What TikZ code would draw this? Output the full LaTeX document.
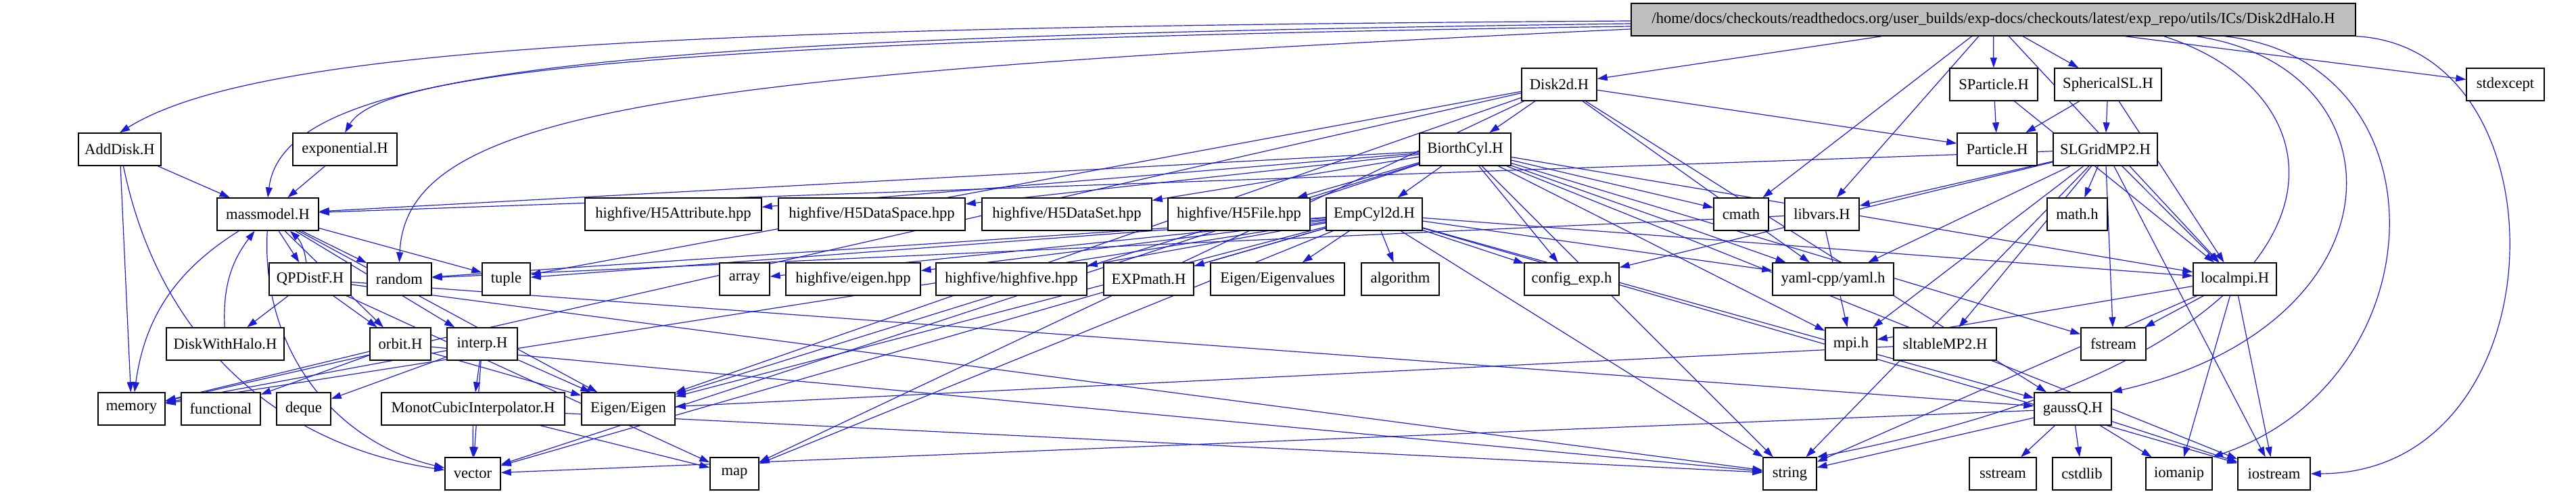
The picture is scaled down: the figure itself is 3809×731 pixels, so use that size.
\documentclass[tikz,border=0pt]{standalone}
\usepackage{fontspec}
\setmainfont{Liberation Serif}
\usetikzlibrary{arrows.meta, backgrounds}
\definecolor{depblue}{HTML}{1C1CD0}
\definecolor{rootgrey}{HTML}{BFBFBF}
\tikzset{
  every picture/.style={line width=0.7pt},
  hfile/.style={draw=black, fill=white, minimum width=#1*0.5pt, minimum height=24pt,
    inner xsep=1pt, inner ysep=0pt, font=\fontsize{11.3}{13}\selectfont},
  rootfile/.style={hfile=#1, fill=rootgrey},
  dep/.style={-{Triangle[length=7.5pt,width=5pt]}, draw=depblue, line width=0.6pt},
}
\begin{document}
\begin{tikzpicture}[x=0.5pt, y=0.5pt]
  \useasboundingbox (0,0) rectangle (3809,-731);
  % the file itself
  \node[rootfile=1071] (main) at (2947.5,-29)
    {/home/docs/checkouts/readthedocs.org/user\_builds/exp-docs/checkouts/latest/exp\_repo/utils/ICs/Disk2dHalo.H};
  % included files, one row at a time
  \foreach \n/\x/\w/\t in {disk2d/2305.5/111/{Disk2d.H}, sparticle/2948/130/{SParticle.H},
      sphsl/3117/158/{SphericalSL.H}, stdexcept/3704.5/115/{stdexcept}}
    \node[hfile=\w] (\n) at (\x,-125) {\t};
  \foreach \n/\x/\w/\t in {adddisk/177/122/{AddDisk.H}, exponential/510/154/{exponential.H},
      biorth/2166.5/135/{BiorthCyl.H}, particle/2953/118/{Particle.H}, slgrid/3113/154/{SLGridMP2.H}}
    \node[hfile=\w] (\n) at (\x,-221) {\t};
  \foreach \n/\x/\w/\t in {massmodel/396/150/{massmodel.H}, h5attr/995.5/261/{highfive/H5Attribute.hpp},
      h5space/1289/276/{highfive/H5DataSpace.hpp}, h5set/1577.5/251/{highfive/H5DataSet.hpp},
      h5file/1832/210/{highfive/H5File.hpp}, empcyl/2032/142/{EmpCyl2d.H}, cmath/2574.5/81/{cmath},
      libvars/2694/110/{libvars.H}, mathh/3071.5/89/{math.h}}
    \node[hfile=\w] (\n) at (\x,-317) {\t};
  \foreach \n/\x/\w/\t in {qpdistf/458.5/121/{QPDistF.H}, random/590.5/95/{random}, tuple/748.5/71/{tuple},
      array/1101/74/{array}, h5eigen/1261.5/199/{highfive/eigen.hpp}, highfive/1495.5/223/{highfive/highfive.hpp},
      expmath/1698.5/133/{EXPmath.H}, eigenvals/1889/198/{Eigen/Eigenvalues}, algorithm/2070.5/115/{algorithm},
      configexp/2324/140/{config\_exp.h}, yaml/2710.5/179/{yaml-cpp/yaml.h}, localmpi/3304.5/123/{localmpi.H}}
    \node[hfile=\w] (\n) at (\x,-413) {\t};
  \foreach \n/\x/\w/\t in {diskhalo/333/174/{DiskWithHalo.H}, orbit/592/90/{orbit.H}, interp/713/104/{interp.H},
      mpih/2737/76/{mpi.h}, sltable/2876/152/{sltableMP2.H}, fstream/3125/96/{fstream}}
    \node[hfile=\w] (\n) at (\x,-509) {\t};
  \foreach \n/\x/\w/\t in {memory/194.5/99/{memory}, functional/326.5/117/{functional}, deque/449/80/{deque},
      monot/699.5/271/{MonotCubicInterpolator.H}, eigen/929/138/{Eigen/Eigen}, gaussq/3065/114/{gaussQ.H}}
    \node[hfile=\w] (\n) at (\x,-605) {\t};
  \foreach \n/\x/\w/\t in {vector/699/82/{vector}, map/1086/72/{map}, string/2646.5/79/{string},
      sstream/2961.5/99/{sstream}, cstdlib/3078.5/87/{cstdlib}, iomanip/3222/98/{iomanip},
      iostream/3362.5/107/{iostream}}
    \node[hfile=\w] (\n) at (\x,-701) {\t};

  \begin{scope}[on background layer]
    % straight includes
    \foreach \a/\b in {main/disk2d, main/cmath, main/libvars, main/sparticle, main/sphsl, main/localmpi,
        main/stdexcept,
        adddisk/massmodel, adddisk/memory, exponential/massmodel,
        disk2d/biorth, disk2d/particle, disk2d/gaussq, disk2d/yaml, disk2d/tuple, disk2d/memory,
        disk2d/eigen, disk2d/map,
        biorth/massmodel, biorth/h5attr, biorth/h5space, biorth/h5set, biorth/h5file, biorth/empcyl,
        biorth/cmath, biorth/configexp, biorth/yaml, biorth/localmpi, biorth/eigen, biorth/vector,
        biorth/string, biorth/mpih, biorth/fstream, biorth/iostream,
        empcyl/random, empcyl/tuple, empcyl/array, empcyl/h5eigen, empcyl/highfive, empcyl/expmath,
        empcyl/eigenvals, empcyl/algorithm, empcyl/configexp, empcyl/yaml, empcyl/localmpi, empcyl/gaussq,
        empcyl/eigen, empcyl/memory, empcyl/vector, empcyl/string, empcyl/iostream, empcyl/map,
        sparticle/particle, sparticle/localmpi, sphsl/particle, sphsl/slgrid, sphsl/localmpi,
        slgrid/massmodel, slgrid/libvars, slgrid/mathh, slgrid/yaml, slgrid/mpih, slgrid/sltable,
        slgrid/fstream, slgrid/string, slgrid/iostream, slgrid/localmpi, slgrid/configexp,
        libvars/mpih, libvars/random,
        localmpi/mpih, localmpi/fstream, localmpi/iomanip, localmpi/iostream, localmpi/string,
        gaussq/string, gaussq/sstream, gaussq/cstdlib, gaussq/iomanip, gaussq/iostream, gaussq/vector,
        sltable/eigen,
        massmodel/qpdistf, massmodel/random, massmodel/tuple, massmodel/orbit, massmodel/interp,
        massmodel/eigen,
        qpdistf/diskhalo, qpdistf/orbit, qpdistf/map, qpdistf/string, qpdistf/gaussq,
        orbit/memory, orbit/functional, orbit/eigen, orbit/string,
        interp/deque, interp/vector, interp/monot, interp/eigen, interp/memory,
        monot/vector, monot/map, monot/string}
      \draw[dep] (\a) -- (\b);
    % curved ones
    \draw[dep] (adddisk) to[bend right=35] (vector);
    \draw[dep] (massmodel) to[bend right=40] (vector);
    \draw[dep] (massmodel) to[bend right=25] (memory);
    \draw[dep] (qpdistf) to[bend right=20] (massmodel);
    \draw[dep] (diskhalo) to[bend left=20] (massmodel);
    \draw[dep] ([yshift=-1pt]main.west) .. controls (1000,-40) and (380,-70) .. (adddisk.north);
    \draw[dep] ([yshift=-3pt]main.west) .. controls (900,-55) and (420,-100) .. (massmodel.north);
    \draw[dep] ([yshift=-5pt]main.west) .. controls (950,-60) and (560,-110) .. (exponential.north);
    \draw[dep] ([yshift=-7pt]main.west) .. controls (1000,-110) and (600,-160) .. (random.north);
    \draw[dep] ([xshift=126pt]main.south) .. controls (3500,-150) and (3500,-520) .. (string.north east);
    \draw[dep] ([xshift=150pt]main.south) .. controls (3560,-100) and (3560,-480) .. (gaussq.north east);
    \draw[dep] ([xshift=171pt]main.south) .. controls (3620,-90) and (3610,-560) .. (iomanip.north east);
    \draw[dep] (main.south east) .. controls (3800,-70) and (3790,-700) .. (iostream.east);
  \end{scope}
\end{tikzpicture}
\end{document}
